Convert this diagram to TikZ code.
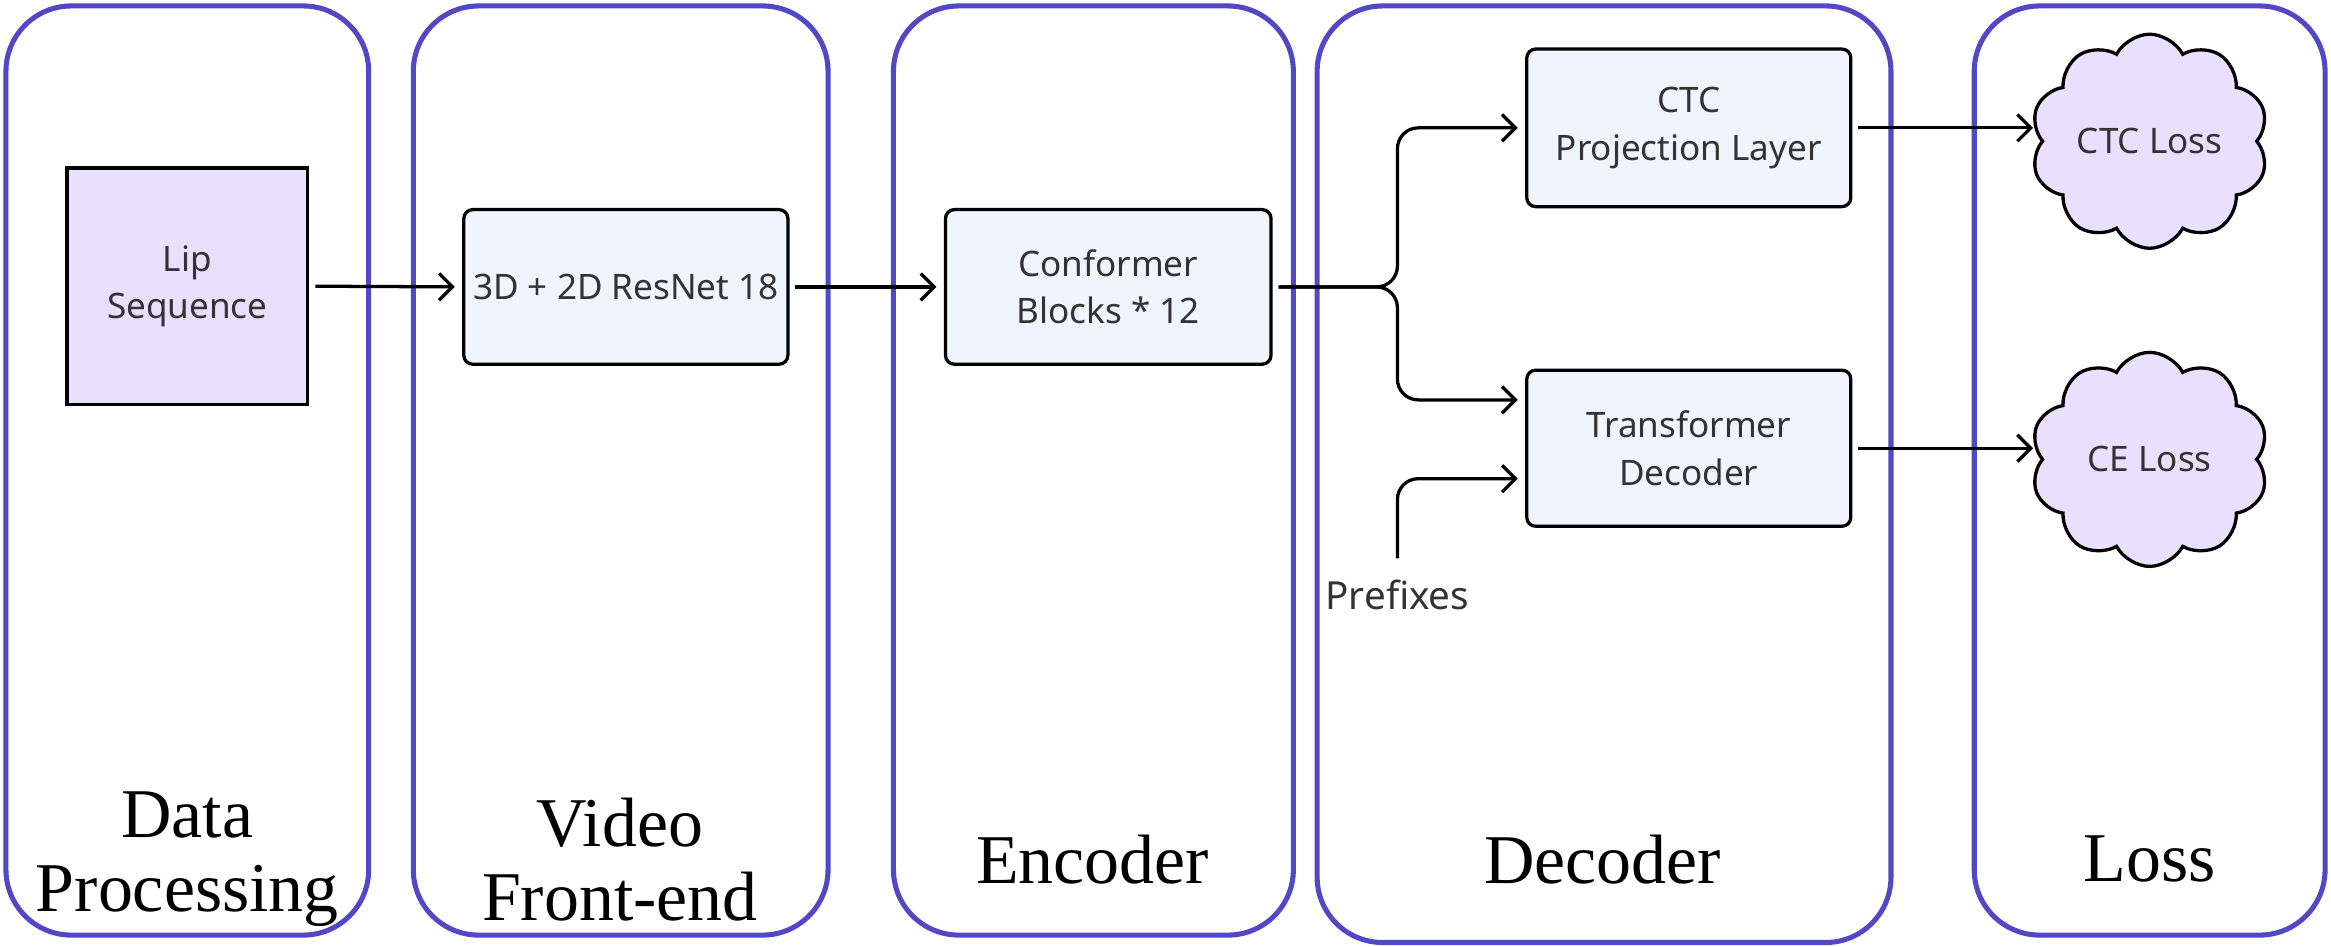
\documentclass[tikz,border=0pt]{standalone}
\usepackage{fontspec}
\setmainfont{Liberation Serif}
\newfontfamily\boxfont{Noto Sans}
\usetikzlibrary{shapes.symbols,arrows.meta}
\definecolor{panelc}{HTML}{5247C4}
\definecolor{boxfill}{HTML}{EFF4FD}
\definecolor{lavender}{HTML}{E8E0FD}
\definecolor{txtc}{HTML}{333333}
\begin{document}
\begin{tikzpicture}[x=0.5pt,y=-0.5pt,
  panel/.style={draw=panelc,line width=1.7pt,rounded corners=22pt},
  plabel/.style={font=\fontsize{23.5}{25}\selectfont,align=center,inner sep=0pt},
  btext/.style={font=\boxfont\fontsize{11.8}{16}\selectfont,text=txtc,align=center},
  block/.style={btext,draw=black,line width=1.1pt,fill=boxfill,rounded corners=3pt,inner xsep=1pt},
  sqblock/.style={btext,draw=black,line width=1.1pt,fill=lavender},
  lossc/.style={btext,cloud,cloud puffs=10,cloud puff arc=125,cloud ignores aspect,
    draw=black,line width=1.1pt,fill=lavender,minimum width=80pt,minimum height=72pt,
    inner sep=0pt},
  arr/.style={draw=black,line width=1.1pt,-{Straight Barb[length=4.5pt,width=9pt,line width=1.1pt]},
    shorten <=2pt,shorten >=2.5pt},
]
\useasboundingbox (0,0) rectangle (1568,637);
% panels
\draw[panel] (4,4) rectangle (248,629);
\draw[panel] (278,4) rectangle (557,629);
\draw[panel] (601,4) rectangle (870,629);
\draw[panel] (886,4) rectangle (1272,634);
\draw[panel] (1328,4) rectangle (1564,629);
% panel labels
\node[plabel] (l1) at (126,578) {Data\\Processing};
\node[plabel] (l2) at (417,578) {Video\\Front-end};
\node[plabel] (l3) at (735,578) {Encoder};
\node[plabel] (l4) at (1078,578) {Decoder};
\node[plabel] (l5) at (1446,578) {Loss};
% blocks
\node[sqblock,minimum width=81pt,minimum height=79.5pt] (lip) at (126,192.5) {Lip\\Sequence};
\node[block,minimum width=109pt,minimum height=52pt] (res) at (421,193) {3D + 2D ResNet 18};
\node[block,minimum width=109.5pt,minimum height=52pt] (conf) at (745.5,193) {Conformer\\Blocks * 12};
\node[block,minimum width=109pt,minimum height=53pt] (ctc) at (1136,86) {CTC\\Projection Layer};
\node[block,minimum width=109pt,minimum height=52.5pt] (tdec) at (1136,301.5) {Transformer\\Decoder};
\node[lossc] (ctcl) at (1446,95) {CTC Loss};
\node[lossc] (cel) at (1446,309) {CE Loss};
\node[btext,font=\boxfont\fontsize{13}{16}\selectfont,inner sep=2pt] (pref) at (940,400) {Prefixes};
\coordinate (split) at (940,193);
% connectors
\draw[arr] (lip.east) -- (res.west);
\draw[arr] (res.east) -- (conf.west);
\draw[arr,rounded corners=7pt] (conf.east) -- (split) |- (ctc.west);
\draw[arr,rounded corners=7pt] (conf.east) -- (split) |- ([yshift=16.25pt]tdec.west);
\draw[arr,rounded corners=7pt,shorten <=5pt] (pref.north) |- ([yshift=-10.25pt]tdec.west);
\draw[arr] (ctc.east) -- (ctc.east -| ctcl.west);
\draw[arr] (tdec.east) -- (tdec.east -| cel.west);
\end{tikzpicture}
\end{document}
